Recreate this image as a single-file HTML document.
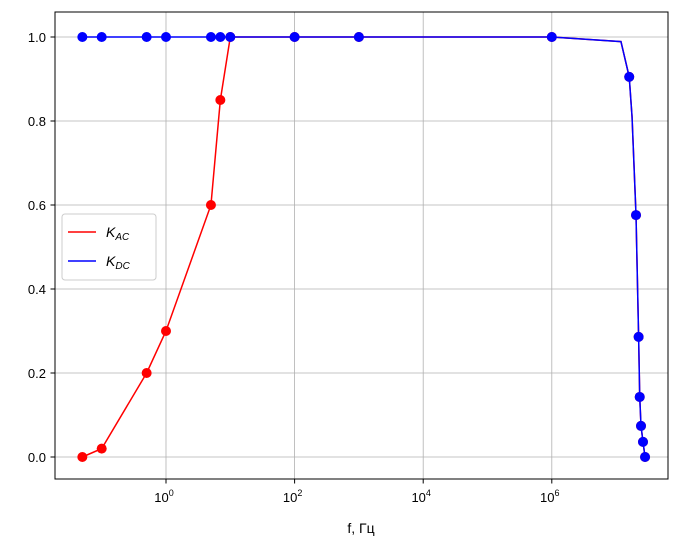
<!DOCTYPE html>
<html><head><meta charset="utf-8"><style>
body{margin:0;background:#fff}
svg{font-family:"Liberation Sans","DejaVu Sans",sans-serif;}
</style></head><body>
<svg id="chart" width="683" height="544">
<g id="grid"></g>
<g id="axes"></g>
<g id="series"></g>
<rect x="55" y="12" width="613" height="467" fill="none" stroke="#000" stroke-width="1"/>
<g>
<rect x="62" y="214" width="94" height="66" rx="3" fill="#fff" fill-opacity="0.8" stroke="#ccc"/>
<line x1="68" y1="232" x2="96" y2="232" stroke="red" stroke-width="1.5"/>
<text x="106" y="237" font-size="14" font-style="italic">K<tspan font-size="10" dy="3">AC</tspan></text>
<line x1="68" y1="261" x2="96" y2="261" stroke="blue" stroke-width="1.5"/>
<text x="106" y="266" font-size="14" font-style="italic">K<tspan font-size="10" dy="3">DC</tspan></text>
</g>
<text x="361" y="533" font-size="14" text-anchor="middle">f, Гц</text>
</svg>
<script>
const freqAC=[0.05,0.1,0.5,1,5,7,10,100,1000,1e6,1.19e7,1.6e7,1.77e7,2.04e7,2.24e7,2.33e7,2.44e7,2.62e7,2.82e7];
const valAC=[0,0.02,0.2,0.3,0.6,0.85,1,1,1,1,0.989,0.905,0.81,0.576,0.286,0.143,0.074,0.036,0];
const markAC=[1,1,1,1,1,1,1,1,1,1,0,1,0,1,1,1,1,1,1];
const freqDC=[0.05,0.1,0.5,1,5,7,10,100,1000,1e6,1.19e7,1.6e7,1.77e7,2.04e7,2.24e7,2.33e7,2.44e7,2.62e7,2.82e7];
const valDC=[1,1,1,1,1,1,1,1,1,1,0.989,0.905,0.81,0.576,0.286,0.143,0.074,0.036,0];
const markDC=[1,1,1,1,1,1,1,1,1,1,0,1,0,1,1,1,1,1,1];
const xTickExp=[0,2,4,6];
const yTicks=[0,0.2,0.4,0.6,0.8,1.0];
const NS='http://www.w3.org/2000/svg';
const X=f=>166+(Math.log10(f))*64.3;
const Y=v=>457-v*420;
function mk(tag,attrs,parent){const e=document.createElementNS(NS,tag);for(const k in attrs)e.setAttribute(k,attrs[k]);parent.appendChild(e);return e;}
const grid=document.getElementById('grid'),axes=document.getElementById('axes'),ser=document.getElementById('series');
xTickExp.forEach(p=>{const x=X(Math.pow(10,p));
 const g=mk('line',{x1:x,x2:x,y1:12,y2:479,stroke:'#b0b0b0','stroke-width':0.8},grid);
 
 
 const t=mk('line',{x1:x,x2:x,y1:479,y2:483.5,stroke:'#000'},axes);
 
 
 const tx=mk('text',{x:x-2,y:502,'font-size':13,'text-anchor':'middle'},axes);
 
 
 tx.innerHTML='10<tspan font-size="9" dy="-6">'+p+'</tspan>';
});
yTicks.forEach(v=>{const y=Y(v);
 const g=mk('line',{x1:55,x2:668,y1:y,y2:y,stroke:'#b0b0b0','stroke-width':0.8},grid);
 
 
 const t=mk('line',{x1:50.5,x2:55,y1:y,y2:y,stroke:'#000'},axes);
 
 
 const tx=mk('text',{x:46,y:y+5,'font-size':13,'text-anchor':'end'},axes);
 
 
 tx.textContent=v.toFixed(1);
});
function draw(fr,vals,marks,color,name){
 const p=mk('polyline',{points:fr.map((f,i)=>X(f)+','+Y(vals[i])).join(' '),fill:'none',stroke:color,'stroke-width':1.5},ser);
 
 
 fr.forEach((f,i)=>{if(!marks[i])return;
  const c=mk('circle',{cx:X(f),cy:Y(vals[i]),r:5,fill:color},ser);
  
  
 });
}
draw(freqAC,valAC,markAC,'red','kac');
draw(freqDC,valDC,markDC,'blue','kdc');
</script>
</body></html>
